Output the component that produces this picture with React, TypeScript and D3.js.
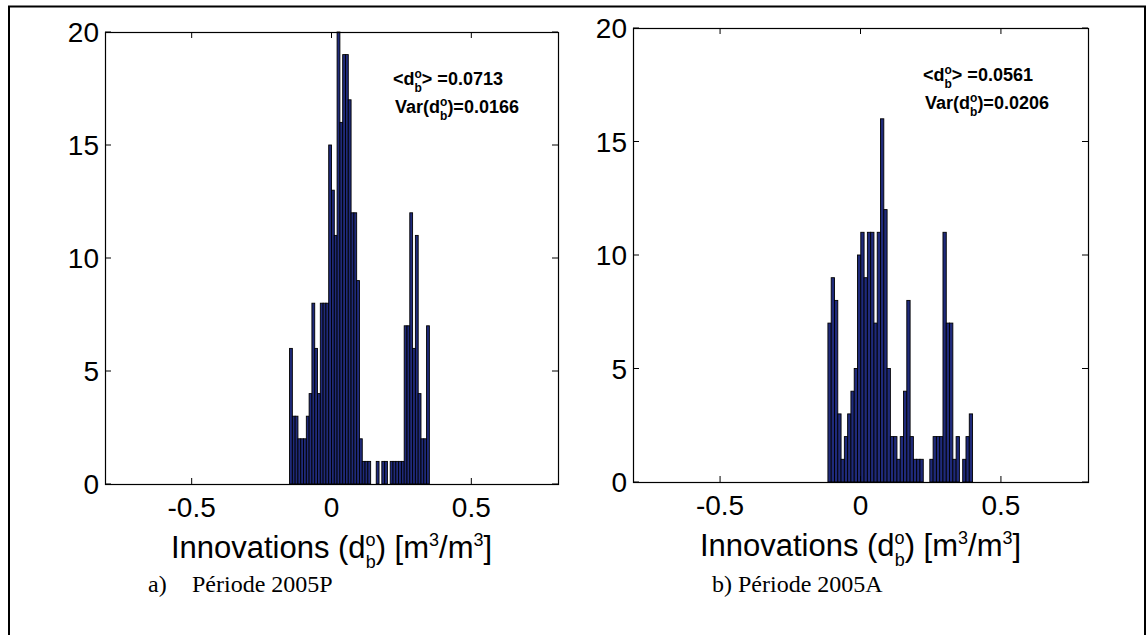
import React from "react";
import * as d3 from "d3";

// ---- data ----
const leftCounts = [6, 3, 3, 2, 2, 2, 3, 4, 8, 6, 4, 8, 8, 8, 15, 13, 11, 20, 16, 19, 19, 17, 12, 12, 9, 2, 1, 1, 1, 0, 0, 1, 0, 1, 1, 0, 1, 1, 1, 1, 1, 7, 7, 12, 6, 11, 4, 2, 2, 7];
const leftRange = [-0.15, 0.35];
const rightCounts = [7, 9, 8, 3, 1, 2, 3, 4, 5, 10, 11, 9, 11, 11, 7, 11, 16, 12, 5, 2, 2, 1, 2, 4, 8, 2, 1, 1, 1, 0, 0, 1, 2, 2, 2, 11, 7, 7, 1, 2, 0, 1, 2, 3];
const rightRange = [-0.116, 0.399];
const xTicks = [-0.5, 0, 0.5];
const yTicks = [0, 5, 10, 15, 20];
const xDomain = [-0.81, 0.81];
const yDomain = [0, 20];
const leftMean = "0.0713";
const leftVar = "0.0166";
const rightMean = "0.0561";
const rightVar = "0.0206";
const leftCaptionTag = "a)";
const leftCaption = "Période 2005P";
const rightCaption = "b) Période 2005A";

const SANS = "'Liberation Sans', Arial, Helvetica, sans-serif";
const SERIF = "'Liberation Serif', 'Times New Roman', serif";

function Panel({ x0, y0, w, h, counts, range, mean, vari }) {
  const x = d3.scaleLinear().domain(xDomain).range([x0, x0 + w]);
  const y = d3.scaleLinear().domain(yDomain).range([y0 + h, y0]);
  const bw = (range[1] - range[0]) / counts.length;
  const tick = 6;
  const annX = x0 + w - 165;
  const annY = y0 + 53;
  const sub = 12;
  const subW = 0.611 * sub;
  const lab = 31;
  const labSub = 18;
  return (
    <g>
      {counts.map((c, i) =>
        c > 0 ? (
          <rect
            key={i}
            x={x(range[0] + i * bw)}
            y={y(c)}
            width={x(range[0] + (i + 1) * bw) - x(range[0] + i * bw)}
            height={y(0) - y(c)}
            fill="#1f2a7a"
            stroke="#000"
            strokeWidth={0.9}
          />
        ) : null
      )}
      <rect x={x0 + 0.5} y={y0 + 0.5} width={w} height={h} fill="none" stroke="#000" strokeWidth={1.2} />
      {xTicks.map((t) => (
        <g key={"x" + t}>
          <line x1={x(t)} x2={x(t)} y1={y0 + h} y2={y0 + h - tick} stroke="#000" />
          <line x1={x(t)} x2={x(t)} y1={y0} y2={y0 + tick} stroke="#000" />
          <text x={x(t)} y={y0 + h + 33} textAnchor="middle" fontFamily={SANS} fontSize={28}>
            {t === 0 ? "0" : String(t)}
          </text>
        </g>
      ))}
      {yTicks.map((t) => (
        <g key={"y" + t}>
          <line x1={x0} x2={x0 + tick} y1={y(t)} y2={y(t)} stroke="#000" />
          <line x1={x0 + w} x2={x0 + w - tick} y1={y(t)} y2={y(t)} stroke="#000" />
          <text x={x0 - 6} y={y(t)} dy="0.36em" textAnchor="end" fontFamily={SANS} fontSize={28}>
            {t}
          </text>
        </g>
      ))}
      <text x={annX} y={annY} fontFamily={SANS} fontSize={18} fontWeight="bold">
        <tspan>{"<d"}</tspan>
        <tspan dy={-7} fontSize={sub}>o</tspan>
        <tspan dx={-subW} dy={14} fontSize={sub}>b</tspan>
        <tspan dy={-7}>{"> =" + mean}</tspan>
      </text>
      <text x={annX + 2} y={annY + 28} fontFamily={SANS} fontSize={18} fontWeight="bold">
        <tspan>{"Var(d"}</tspan>
        <tspan dy={-7} fontSize={sub}>o</tspan>
        <tspan dx={-subW} dy={14} fontSize={sub}>b</tspan>
        <tspan dy={-7}>{")=" + vari}</tspan>
      </text>
      <text x={x0 + w / 2} y={y0 + h + 74} textAnchor="middle" fontFamily={SANS} fontSize={lab}>
        <tspan>{"Innovations (d"}</tspan>
        <tspan dy={-12} fontSize={labSub}>o</tspan>
        <tspan dx={-0.556 * labSub} dy={22} fontSize={labSub}>b</tspan>
        <tspan dy={-10}>{") [m"}</tspan>
        <tspan dy={-12} fontSize={labSub}>3</tspan>
        <tspan dy={12}>{"/m"}</tspan>
        <tspan dy={-12} fontSize={labSub}>3</tspan>
        <tspan dy={12}>{"]"}</tspan>
      </text>
    </g>
  );
}

export default function App() {
  return (
    <svg
      width={1147}
      height={635}
      style={{ position: "absolute", left: 0, top: 0, background: "#fff" }}
    >
      <rect x={0} y={0} width={1147} height={635} fill="#fff" />
      <rect x={9} y={6.5} width={1136} height={700} fill="none" stroke="#000" strokeWidth={2} />
      <Panel x0={105} y0={32} w={453} h={452} counts={leftCounts} range={leftRange} mean={leftMean} vari={leftVar} />
      <Panel x0={633} y0={28} w={455} h={454} counts={rightCounts} range={rightRange} mean={rightMean} vari={rightVar} />
      <text x={148} y={592} fontFamily={SERIF} fontSize={24}>{leftCaptionTag}</text>
      <text x={192} y={592} fontFamily={SERIF} fontSize={24}>{leftCaption}</text>
      <text x={712} y={592} fontFamily={SERIF} fontSize={24}>{rightCaption}</text>
    </svg>
  );
}
